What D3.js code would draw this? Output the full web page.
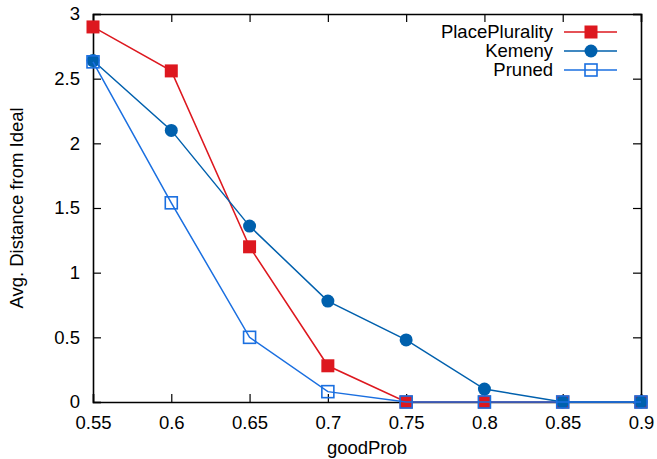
<!DOCTYPE html>
<html>
<head>
<script src="https://d3js.org/d3.v7.min.js"></script>
<style>
  body { margin: 0; background: #fff; }
  text { font-family: "Liberation Sans", Arial, sans-serif; font-size: 18.5px; fill: #000; }
</style>
</head>
<body>
<script>
  var goodProb = [0.55, 0.6, 0.65, 0.7, 0.75, 0.8, 0.85, 0.9];
  var placePlurality = [2.90, 2.56, 1.20, 0.28, 0, 0, 0, 0];
  var kemeny = [2.64, 2.10, 1.36, 0.78, 0.48, 0.10, 0, 0];
  var pruned = [2.63, 1.54, 0.50, 0.08, 0, 0, 0, 0];
  var xTicks = [0.55, 0.6, 0.65, 0.7, 0.75, 0.8, 0.85, 0.9];
  var yTicks = [0, 0.5, 1, 1.5, 2, 2.5, 3];

  var width = 657, height = 459;
  var margin = { top: 14, right: 16, bottom: 57, left: 93 };
  var w = width - margin.left - margin.right,
    h = height - margin.top - margin.bottom;

  var x = d3.scaleLinear().domain([0.55, 0.9]).range([0, w]);
  var y = d3.scaleLinear().domain([0, 3]).range([h, 0]);

  var svg = d3.select("body").append("svg")
    .attr("width", width)
    .attr("height", height);

  var g = svg.append("g")
    .attr("transform", "translate(" + margin.left + "," + margin.top + ")");

  // axes, ticks pointing inward, mirrored on all sides
  g.append("g")
    .attr("transform", "translate(0," + h + ")")
    .call(d3.axisBottom(x).tickValues(xTicks).tickSize(-8).tickPadding(14)
      .tickFormat(function(d) { return String(+d.toFixed(2)); }));
  g.append("g")
    .call(d3.axisTop(x).tickValues(xTicks).tickSize(-8).tickFormat(""));
  g.append("g")
    .call(d3.axisLeft(y).tickValues(yTicks).tickSize(-8).tickPadding(13)
      .tickFormat(function(d) { return String(d); }));
  g.append("g")
    .attr("transform", "translate(" + w + ",0)")
    .call(d3.axisRight(y).tickValues(yTicks).tickSize(-8).tickFormat(""));

  g.selectAll(".domain").attr("stroke", "#000").attr("stroke-width", 1.6);
  g.selectAll(".tick line").attr("stroke", "#000").attr("stroke-width", 1.2);
  g.selectAll(".tick text").style("font-size", "18.5px").attr("fill", "#000");

  svg.append("text")
    .attr("x", margin.left + w / 2)
    .attr("y", 454)
    .attr("text-anchor", "middle")
    .text("goodProb");

  svg.append("text")
    .attr("transform", "translate(23," + (margin.top + h / 2) + ") rotate(-90)")
    .attr("text-anchor", "middle")
    .text("Avg. Distance from Ideal");

  var series = [
    { name: "PlacePlurality", values: placePlurality, color: "#dd181f", marker: "fsquare" },
    { name: "Kemeny", values: kemeny, color: "#0060ad", marker: "circle" },
    { name: "Pruned", values: pruned, color: "#1a6fe0", marker: "osquare" }
  ];

  var line = d3.line()
    .x(function(d) { return x(d[0]); })
    .y(function(d) { return y(d[1]); });

  function drawMarker(sel, s, cx, cy) {
    if (s.marker === "fsquare") {
      sel.append("rect")
        .attr("x", cx - 6.5).attr("y", cy - 6.5)
        .attr("width", 13).attr("height", 13)
        .attr("fill", s.color);
    } else if (s.marker === "circle") {
      sel.append("circle")
        .attr("cx", cx).attr("cy", cy).attr("r", 6.5)
        .attr("fill", s.color);
    } else {
      sel.append("rect")
        .attr("x", cx - 6).attr("y", cy - 6)
        .attr("width", 12).attr("height", 12)
        .attr("fill", "none")
        .attr("stroke", s.color)
        .attr("stroke-width", 1.6);
    }
  }

  series.forEach(function(s) {
    var pts = goodProb.map(function(p, i) { return [p, s.values[i]]; });
    g.append("path")
      .datum(pts)
      .attr("d", line)
      .attr("fill", "none")
      .attr("stroke", s.color)
      .attr("stroke-width", 1.5);
    var mg = g.append("g");
    pts.forEach(function(d) { drawMarker(mg, s, x(d[0]), y(d[1])); });
  });

  // legend
  var legend = svg.append("g");
  series.forEach(function(s, i) {
    var ly = 32 + i * 19;
    legend.append("text")
      .attr("x", 553)
      .attr("y", ly)
      .attr("dy", "0.35em")
      .attr("text-anchor", "end")
      .text(s.name);
    legend.append("line")
      .attr("x1", 564).attr("x2", 617)
      .attr("y1", ly).attr("y2", ly)
      .attr("stroke", s.color)
      .attr("stroke-width", 1.5);
    drawMarker(legend, s, 591, ly);
  });
</script>
</body>
</html>
